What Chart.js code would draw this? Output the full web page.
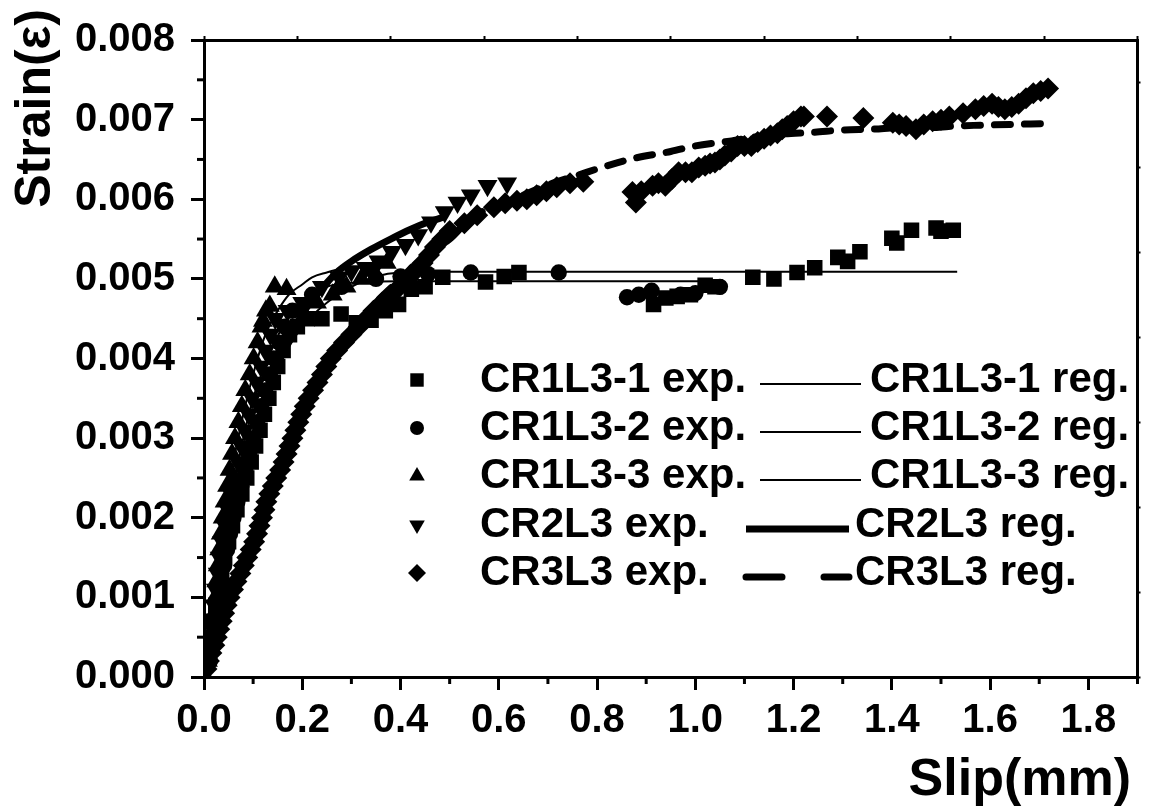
<!DOCTYPE html>
<html><head><meta charset="utf-8">
<script src="https://cdn.jsdelivr.net/npm/chart.js@4.4.1/dist/chart.umd.min.js"></script>
<style>html,body{margin:0;padding:0;background:#fff;}canvas{display:block;}</style>
</head><body>
<canvas id="c" width="1149" height="808"></canvas>
<script>
// ---------- axis text ----------
const xAxisTitle = 'Slip(mm)';
const yAxisTitle = 'Strain(\u03b5)';
const xTickValues = [0.0,0.2,0.4,0.6,0.8,1.0,1.2,1.4,1.6,1.8];
const xMinorTickValues = [0.1,0.3,0.5,0.7,0.9,1.1,1.3,1.5,1.7,1.9];
const yTickValues = [0.000,0.001,0.002,0.003,0.004,0.005,0.006,0.007,0.008];
const yMinorTickValues = [0.0005,0.0015,0.0025,0.0035,0.0045,0.0055,0.0065,0.0075];
const topTickValues = [0.0,0.2,0.4,0.6,0.8,1.0,1.2,1.4,1.6,1.8,2.0];
const rightTickValues = [0.000,0.001,0.002,0.003,0.004,0.005,0.006,0.007];

// ---------- series labels ----------
const expLabels = ['CR1L3-1 exp.','CR1L3-2 exp.','CR1L3-3 exp.','CR2L3 exp.','CR3L3 exp.'];
const regLabels = ['CR1L3-1 reg.','CR1L3-2 reg.','CR1L3-3 reg.','CR2L3 reg.','CR3L3 reg.'];

// ---------- CR1L3-1 experimental (squares) ----------
const cr1l3_1_exp_slip = [0.006,0.012,0.018,0.024,0.030,0.036,0.042,0.050,0.058,0.067,0.077,0.087,0.096,0.105,0.114,0.123,0.132,0.141,0.150,0.161,0.174,0.190,0.210,0.240,0.279,0.310,0.340,0.369,0.396,0.422,0.450,0.486,0.573,0.611,0.641,0.915,0.940,0.963,0.990,1.020,1.040,1.117,1.160,1.207,1.243,1.290,1.310,1.335,1.400,1.410,1.440,1.490,1.500,1.525];
const cr1l3_1_exp_strain = [0.0003,0.0005,0.0007,0.0009,0.0011,0.0013,0.0015,0.0017,0.0019,0.0021,0.0023,0.0025,0.0027,0.0029,0.0031,0.0033,0.0035,0.0037,0.0039,0.0041,0.0043,0.0044,0.0045,0.0045,0.00456,0.00445,0.00448,0.0046,0.00468,0.00487,0.0049,0.00502,0.00496,0.00503,0.00508,0.00468,0.00476,0.00478,0.0048,0.00492,0.0049,0.00502,0.0050,0.00508,0.00514,0.00527,0.00522,0.00534,0.00551,0.00545,0.00561,0.00564,0.0056,0.00561];

// ---------- CR1L3-2 experimental (circles) ----------
const cr1l3_2_exp_slip = [0.012,0.018,0.023,0.027,0.032,0.036,0.041,0.047,0.053,0.060,0.068,0.076,0.084,0.092,0.100,0.108,0.116,0.124,0.133,0.142,0.153,0.164,0.180,0.220,0.280,0.350,0.400,0.456,0.543,0.722,0.861,0.885,0.911,0.970,1.000,1.050];
const cr1l3_2_exp_strain = [0.0002,0.0004,0.0006,0.0008,0.0010,0.0012,0.0014,0.0016,0.0018,0.0020,0.0022,0.0024,0.0026,0.0028,0.0030,0.0032,0.0034,0.0036,0.0038,0.0040,0.0042,0.0044,0.0046,0.0048,0.0049,0.0050,0.00503,0.00506,0.00508,0.00508,0.00477,0.0048,0.00485,0.0048,0.00482,0.0049];

// ---------- CR1L3-3 experimental (up triangles) ----------
const cr1l3_3_exp_slip = [0.003,0.008,0.012,0.018,0.021,0.023,0.025,0.028,0.031,0.034,0.038,0.042,0.047,0.052,0.057,0.063,0.070,0.077,0.084,0.093,0.101,0.109,0.117,0.120,0.126,0.134,0.144,0.168,0.200,0.230,0.262,0.290,0.320,0.345,0.372];
const cr1l3_3_exp_strain = [0.0000,0.0002,0.0004,0.0006,0.0008,0.0010,0.0012,0.0014,0.0016,0.0018,0.0020,0.0022,0.0024,0.0026,0.0028,0.0030,0.0032,0.0034,0.0036,0.0038,0.0040,0.0042,0.0044,0.00447,0.0046,0.00466,0.0049,0.00487,0.0046,0.0047,0.0048,0.0049,0.0050,0.0051,0.0052];

// ---------- CR2L3 experimental (down triangles) ----------
const cr2l3_exp_slip = [0.006,0.010,0.014,0.017,0.021,0.024,0.028,0.032,0.037,0.043,0.049,0.055,0.062,0.069,0.076,0.083,0.091,0.098,0.107,0.116,0.125,0.135,0.145,0.170,0.200,0.240,0.275,0.300,0.329,0.355,0.382,0.410,0.436,0.462,0.490,0.516,0.543,0.577,0.617];
const cr2l3_exp_strain = [0.0001,0.0003,0.0005,0.0007,0.0009,0.0011,0.0013,0.0015,0.0017,0.0019,0.0021,0.0023,0.0025,0.0027,0.0029,0.0031,0.0033,0.0035,0.0037,0.0039,0.0041,0.0043,0.0045,0.0046,0.0047,0.0049,0.00502,0.0051,0.00514,0.00522,0.00534,0.00543,0.00555,0.00571,0.00584,0.00596,0.00605,0.00617,0.0062];

// ---------- CR3L3 experimental (diamonds) ----------
const cr3l3_exp_slip = [0.005,0.010,0.015,0.021,0.026,0.031,0.036,0.041,0.046,0.052,0.059,0.066,0.074,0.081,0.088,0.095,0.102,0.108,0.113,0.118,0.123,0.127,0.133,0.140,0.147,0.155,0.162,0.168,0.174,0.180,0.186,0.192,0.198,0.205,0.213,0.222,0.231,0.240,0.249,0.258,0.271,0.285,0.300,0.315,0.330,0.345,0.362,0.380,0.398,0.415,0.430,0.445,0.458,0.470,0.485,0.500,0.530,0.556,0.590,0.613,0.637,0.657,0.677,0.697,0.718,0.745,0.772,0.872,0.879,0.890,0.913,0.925,0.939,0.952,0.966,0.980,0.993,1.007,1.020,1.030,1.040,1.050,1.060,1.073,1.086,1.100,1.114,1.127,1.140,1.153,1.167,1.177,1.187,1.200,1.215,1.221,1.268,1.342,1.402,1.415,1.429,1.449,1.465,1.483,1.500,1.517,1.545,1.570,1.587,1.604,1.617,1.630,1.644,1.658,1.673,1.688,1.703,1.718];
const cr3l3_exp_strain = [0.0001,0.0002,0.0003,0.0004,0.0005,0.0006,0.0007,0.0008,0.0009,0.0010,0.0011,0.0012,0.0013,0.0014,0.0015,0.0016,0.0017,0.0018,0.0019,0.0020,0.0021,0.0022,0.0023,0.0024,0.0025,0.0026,0.0027,0.0028,0.0029,0.0030,0.0031,0.0032,0.0033,0.0034,0.0035,0.0036,0.0037,0.0038,0.0039,0.0040,0.0041,0.0042,0.0043,0.0044,0.0045,0.0046,0.0047,0.0048,0.0049,0.0050,0.0051,0.0052,0.0053,0.0054,0.0055,0.0056,0.0057,0.0058,0.0059,0.00595,0.00598,0.0060,0.00605,0.0061,0.00615,0.0062,0.00622,0.00609,0.00596,0.0061,0.00617,0.0062,0.00617,0.00625,0.00634,0.00634,0.00634,0.0064,0.00642,0.00645,0.00646,0.0065,0.00655,0.0066,0.00667,0.00667,0.00667,0.00672,0.00676,0.0068,0.00683,0.00688,0.00692,0.00698,0.00704,0.00704,0.00704,0.00702,0.00696,0.00694,0.00692,0.00688,0.00694,0.00698,0.0070,0.00704,0.00708,0.00713,0.00717,0.0072,0.00716,0.00713,0.00716,0.0072,0.00727,0.00733,0.00736,0.00739];

// ---------- regression curves ----------
const cr1l3_1_reg_slip = [0,0.02,0.04,0.06,0.08,0.10,0.13,0.16,0.20,0.25,0.30,0.35,0.40,0.50,0.70,1.00,1.30,1.533];
const cr1l3_1_reg_strain = [0,0.0008,0.0015,0.0021,0.0026,0.0031,0.0036,0.0040,0.0044,0.0047,0.0049,0.00503,0.00508,0.00509,0.00509,0.00509,0.00509,0.00509];
const cr1l3_2_reg_slip = [0,0.02,0.04,0.06,0.08,0.10,0.13,0.16,0.20,0.25,0.30,0.40,0.60,0.80,1.05];
const cr1l3_2_reg_strain = [0,0.0009,0.0017,0.0024,0.0030,0.0035,0.0040,0.0044,0.0047,0.0049,0.00495,0.00497,0.00497,0.00497,0.00497];
const cr1l3_3_reg_slip = [0,0.01,0.02,0.03,0.045,0.06,0.08,0.10,0.125,0.15,0.174,0.20,0.22,0.25,0.275,0.31,0.37];
const cr1l3_3_reg_strain = [0,0.0005,0.0010,0.0015,0.0021,0.0027,0.0033,0.0038,0.0043,0.0046,0.00481,0.00493,0.00502,0.00508,0.00512,0.00514,0.00515];
const cr2l3_reg_slip = [0,0.01,0.02,0.033,0.047,0.063,0.081,0.097,0.114,0.137,0.162,0.185,0.21,0.24,0.27,0.30,0.34,0.38,0.42,0.455,0.49];
const cr2l3_reg_strain = [0,0.0004,0.0008,0.0012,0.0016,0.0020,0.00245,0.0029,0.00325,0.0037,0.0041,0.0044,0.00465,0.00488,0.00508,0.00522,0.00537,0.0055,0.00562,0.00571,0.00578];
const cr3l3_reg_slip = [0,0.05,0.10,0.15,0.20,0.25,0.30,0.35,0.40,0.45,0.50,0.55,0.60,0.65,0.70,0.76,0.82,0.88,0.95,1.00,1.07,1.12,1.18,1.24,1.30,1.36,1.42,1.48,1.53,1.58,1.64,1.725];
const cr3l3_reg_strain = [0,0.0010,0.0017,0.0025,0.0033,0.0039,0.0043,0.0047,0.0050,0.0053,0.0055,0.0058,0.0059,0.00605,0.00618,0.0063,0.00642,0.00652,0.0066,0.00667,0.00673,0.00678,0.00682,0.00684,0.00687,0.00688,0.0069,0.0069,0.00692,0.00693,0.00694,0.00695];

// ---------- build ----------
const pts = (xs, ys) => xs.map((x, i) => ({x: x, y: ys[i]}));
const FONT = '"Liberation Sans", Arial, Helvetica, sans-serif';
const BLACK = '#000';

function expSet(label, xs, ys, style, radius, rotation) {
  return { label, data: pts(xs, ys), showLine: false, pointStyle: style, pointRadius: radius,
    pointRotation: rotation || 0, pointBackgroundColor: BLACK, pointBorderColor: BLACK,
    pointBorderWidth: 0, borderColor: BLACK, backgroundColor: BLACK, clip: 0, pointHoverRadius: radius };
}
function regSet(label, xs, ys, width, dash) {
  return { label, data: pts(xs, ys), showLine: true, pointRadius: 0, pointHoverRadius: 0,
    borderColor: BLACK, backgroundColor: BLACK, borderWidth: width, borderDash: dash || [],
    borderCapStyle: dash ? 'round' : 'butt', cubicInterpolationMode: 'monotone', fill: false, clip: 0 };
}

const datasets = [
  expSet(expLabels[0], cr1l3_1_exp_slip, cr1l3_1_exp_strain, 'rect', 11),
  expSet(expLabels[1], cr1l3_2_exp_slip, cr1l3_2_exp_strain, 'circle', 8.2),
  expSet(expLabels[2], cr1l3_3_exp_slip, cr1l3_3_exp_strain, 'triangle', 11.5),
  expSet(expLabels[3], cr2l3_exp_slip, cr2l3_exp_strain, 'triangle', 11.5, 180),
  expSet(expLabels[4], cr3l3_exp_slip, cr3l3_exp_strain, 'rectRot', 11),
  regSet(regLabels[0], cr1l3_1_reg_slip, cr1l3_1_reg_strain, 2),
  regSet(regLabels[1], cr1l3_2_reg_slip, cr1l3_2_reg_strain, 2),
  regSet(regLabels[2], cr1l3_3_reg_slip, cr1l3_3_reg_strain, 2),
  regSet(regLabels[3], cr2l3_reg_slip, cr2l3_reg_strain, 7),
  regSet(regLabels[4], cr3l3_reg_slip, cr3l3_reg_strain, 7, [16, 14])
];

function drawMarker(ctx, style, r, rot, x, y) {
  ctx.beginPath();
  if (style === 'rect') { const s = r * Math.SQRT1_2; ctx.rect(x - s, y - s, 2 * s, 2 * s); }
  else if (style === 'circle') { ctx.arc(x, y, r, 0, Math.PI * 2); }
  else if (style === 'triangle') {
    const sg = rot === 180 ? -1 : 1;
    ctx.moveTo(x, y - sg * r); ctx.lineTo(x + r * 0.866, y + sg * r * 0.5); ctx.lineTo(x - r * 0.866, y + sg * r * 0.5); ctx.closePath();
  } else if (style === 'rectRot') {
    ctx.moveTo(x, y - r); ctx.lineTo(x + r, y); ctx.lineTo(x, y + r); ctx.lineTo(x - r, y); ctx.closePath();
  }
  ctx.fill();
}

const extras = {
  id: 'extras',
  afterDraw(chart) {
    const ctx = chart.ctx, xs = chart.scales.x, ys = chart.scales.y, ca = chart.chartArea;
    ctx.save();
    ctx.strokeStyle = BLACK; ctx.fillStyle = BLACK; ctx.lineWidth = 3; ctx.lineCap = 'butt';
    // minor ticks
    xMinorTickValues.forEach(v => { const p = xs.getPixelForValue(v); ctx.beginPath(); ctx.moveTo(p, ca.bottom); ctx.lineTo(p, ca.bottom + 7); ctx.stroke(); });
    yMinorTickValues.forEach(v => { const p = ys.getPixelForValue(v); ctx.beginPath(); ctx.moveTo(ca.left, p); ctx.lineTo(ca.left - 7, p); ctx.stroke(); });

    // axis titles
    ctx.font = 'bold 52px ' + FONT;
    ctx.textAlign = 'right'; ctx.textBaseline = 'alphabetic';
    ctx.fillText(xAxisTitle, 1131, 795);
    ctx.save();
    ctx.translate(50, 9); ctx.rotate(-Math.PI / 2);
    ctx.font = 'bold 50px ' + FONT;
    ctx.textAlign = 'right';
    ctx.fillText(yAxisTitle, 0, 0);
    ctx.restore();

    // legend
    const rowY = [380, 428, 476, 525, 573];
    const legendMarker = [9.5, 7, 9, 9, 9];
    ctx.font = 'bold 42px ' + FONT;
    ctx.textBaseline = 'middle'; ctx.textAlign = 'left';
    for (let i = 0; i < 5; i++) {
      const e = chart.data.datasets[i], r = chart.data.datasets[i + 5];
      const y = rowY[i];
      drawMarker(ctx, e.pointStyle, legendMarker[i], e.pointRotation, 417, y);
      ctx.fillText(e.label, 480, y);
      const thick = r.borderWidth > 3;
      const x0 = thick ? 743 : 760, x1 = thick ? 849 : 861;
      ctx.save();
      ctx.lineWidth = r.borderWidth;
      ctx.lineCap = (r.borderDash && r.borderDash.length) ? 'round' : 'butt';
      if (r.borderDash && r.borderDash.length) ctx.setLineDash([36, 42]);
      ctx.beginPath(); ctx.moveTo(thick ? x0 + 3 : x0, y + 4); ctx.lineTo(x1, y + 4); ctx.stroke();
      ctx.restore();
      ctx.fillText(r.label, thick ? 855 : 870, y);
    }
    ctx.restore();
  }
};

const tickFont = { family: FONT, weight: 'bold', size: 40 };
new Chart(document.getElementById('c'), {
  type: 'scatter',
  data: { datasets },
  plugins: [extras],
  options: {
    responsive: false, animation: false, devicePixelRatio: 1,
    events: [],
    layout: { padding: { top: 29, right: 0, bottom: 0, left: 0 } },
    plugins: { legend: { display: false }, tooltip: { enabled: false } },
    scales: {
      x: {
        type: 'linear', position: 'bottom', min: 0, max: 1.9,
        afterBuildTicks: s => { s.ticks = xTickValues.map(v => ({ value: v })); },
        afterFit: s => { s.height = 131; },
        ticks: { font: tickFont, color: BLACK, padding: 7, maxRotation: 0, autoSkip: false,
                 callback: v => Number(v).toFixed(1) },
        grid: { drawOnChartArea: false, drawTicks: true, tickLength: 13, tickWidth: 3, tickColor: BLACK },
        border: { display: true, width: 3, color: BLACK }
      },
      y: {
        type: 'linear', position: 'left', min: 0, max: 0.008,
        afterBuildTicks: s => { s.ticks = yTickValues.map(v => ({ value: v })); },
        afterFit: s => { s.width = 204; },
        ticks: { font: tickFont, color: BLACK, padding: 16, autoSkip: false,
                 callback: v => Number(v).toFixed(3) },
        grid: { drawOnChartArea: false, drawTicks: true, tickLength: 13, tickWidth: 3, tickColor: BLACK },
        border: { display: true, width: 3, color: BLACK }
      },
      x2: {
        type: 'linear', position: 'top', min: 0, max: 2.0,
        afterBuildTicks: s => { s.ticks = topTickValues.map(v => ({ value: v })); },
        afterFit: s => { s.height = 4; },
        ticks: { display: false },
        grid: { drawOnChartArea: false, drawTicks: true, tickLength: 4, tickWidth: 2, tickColor: BLACK },
        border: { display: true, width: 3, color: BLACK }
      },
      y2: {
        type: 'linear', position: 'right', min: 0, max: 0.0075,
        afterBuildTicks: s => { s.ticks = rightTickValues.map(v => ({ value: v })); },
        afterFit: s => { s.width = 3; },
        ticks: { display: false },
        grid: { drawOnChartArea: false, drawTicks: true, tickLength: 3, tickWidth: 2, tickColor: BLACK },
        border: { display: true, width: 3, color: BLACK }
      }
    }
  }
});
</script>
</body></html>
